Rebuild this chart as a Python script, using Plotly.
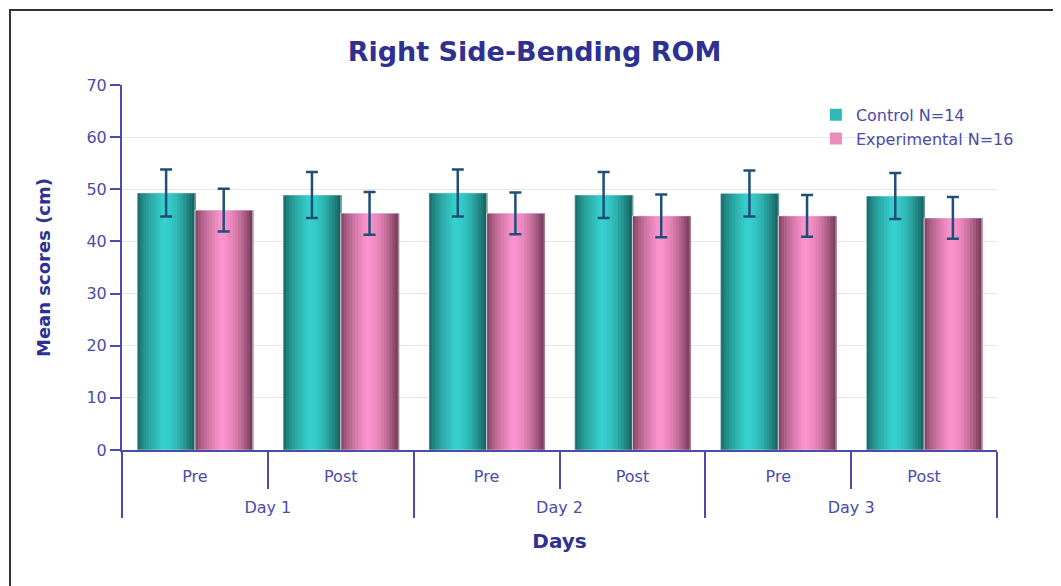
import plotly.graph_objects as go

days = ["Day 1", "Day 1", "Day 2", "Day 2", "Day 3", "Day 3"]
phases = ["Pre", "Post", "Pre", "Post", "Pre", "Post"]
control = [49.3, 48.9, 49.3, 48.9, 49.2, 48.7]
control_err = [4.5, 4.4, 4.5, 4.4, 4.4, 4.4]
experimental = [46.0, 45.4, 45.4, 44.9, 44.9, 44.5]
experimental_err = [4.1, 4.1, 4.0, 4.1, 4.0, 4.0]
series_names = ["Control N=14", "Experimental N=16"]

# extra blank line under inner labels pushes the outer (day) row lower
x = [days, [p + "<br> " for p in phases]]
navy = "#2e3192"
axis_col = "#4b4bab"
FONT = "DejaVu Sans, Liberation Sans, Arial, sans-serif"

def lerp(c1, c2, t):
    return "rgb(%d,%d,%d)" % tuple(round(a + (b - a) * t) for a, b in zip(c1, c2))

styles = [
    (control, control_err, (22, 92, 88), (54, 208, 206), "#2fb8b6", -0.395),
    (experimental, experimental_err, (112, 54, 82), (252, 148, 204), "#e98cbd", 0.0),
]
bw = 0.395
n = 20
fig = go.Figure()
for k, (vals, errs, dark, light, mid, off) in enumerate(styles):
    fig.add_trace(go.Bar(x=x, y=vals, name=series_names[k], marker_color=mid,
                         marker_line_width=0, offset=off, width=bw, showlegend=True,
                         legendrank=k))
    for i in range(n):
        t = (i + 0.5) / n
        if t < 0.45:
            f = (t / 0.45) ** 0.6
        else:
            f = 1 - ((t - 0.45) / 0.55) ** 1.8
        f = max(0.0, min(1.0, f))
        fig.add_trace(go.Bar(x=x, y=vals, marker_color=lerp(dark, light, f),
                             marker_line_width=0, offset=off + i * bw / n,
                             width=bw / n + 0.006, showlegend=False, hoverinfo="skip"))
for k, (vals, errs, dark, light, mid, off) in enumerate(styles):
    fig.add_trace(go.Bar(x=x, y=vals, marker_color="rgba(0,0,0,0)", offset=off, width=bw,
                         showlegend=False, hoverinfo="skip",
                         error_y=dict(type="data", array=errs, visible=True,
                                      color="#1f4e79", thickness=2.5, width=6)))

fig.update_layout(
    width=1053, height=578,
    barmode="overlay",
    paper_bgcolor="white", plot_bgcolor="white",
    margin=dict(l=114, r=64, t=77, b=136),
    font=dict(family=FONT, color=axis_col, size=15),
    title=dict(text="<b>Right Side-Bending ROM</b>", x=0.5, xanchor="center",
               y=0.924, yanchor="middle", font=dict(size=27, color=navy)),
    legend=dict(x=0.793, y=0.965, xanchor="left", yanchor="top", bgcolor="rgba(0,0,0,0)",
                font=dict(size=16, color=axis_col), itemsizing="constant"),
    showlegend=True,
)
fig.update_yaxes(range=[0, 70], dtick=10, showgrid=True, gridcolor="#e6e6e6",
                 showline=True, linecolor=axis_col, linewidth=2,
                 ticks="outside", ticklen=10, tickcolor=axis_col, tickwidth=2,
                 tickfont=dict(size=16, color=axis_col), zeroline=False,
                 title=dict(text="<b>Mean scores (cm)</b>", font=dict(size=18, color=navy),
                            standoff=31))
fig.update_xaxes(type="multicategory", showline=True, linecolor=axis_col, linewidth=2,
                 ticks="outside", tickson="boundaries", ticklen=37, tickcolor=axis_col,
                 tickwidth=2, dividercolor=axis_col, dividerwidth=2,
                 ticklabelstandoff=11,
                 tickfont=dict(size=16, color=axis_col),
                 title=dict(text="<b>Days</b>", font=dict(size=20, color=navy), standoff=18))
fig.add_shape(type="rect", xref="paper", yref="paper",
              x0=(10 - 122) / 875, x1=(1057 - 122) / 875,
              y0=(450 - 620) / 365, y1=(450 - 10) / 365,
              line=dict(color="#333333", width=2), fillcolor="rgba(0,0,0,0)")

fig.write_html("out.html")
